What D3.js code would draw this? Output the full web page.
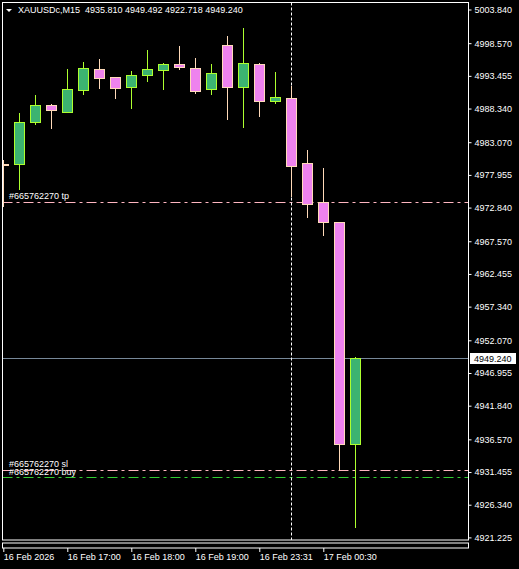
<!DOCTYPE html>
<html>
<head>
<meta charset="utf-8">
<script src="https://cdn.jsdelivr.net/npm/d3@7"></script>
<style>
body { margin: 0; background: #000; overflow: hidden; }
text { font-family: "Liberation Sans", Arial, sans-serif; font-size: 9px; fill: #fff; }
</style>
</head>
<body>
<script>
// candle times (M15), gap after 19:45 on the holiday session
const times = ['16:00', '16:15', '16:30', '16:45', '17:00', '17:15', '17:30', '17:45',
    '18:00', '18:15', '18:30', '18:45', '19:00', '19:15', '19:30', '19:45',
    '23:31', '23:45', '00:00', '00:15', '00:30', '00:45', '01:00']
const open = [4979.70, 4979.55, 4986.12, 4988.89, 4987.85, 4991.13, 4994.48, 4993.23,
    4991.66, 4993.48, 4994.26, 4995.26, 4994.64, 4991.29, 4998.24, 4991.60,
    4995.26, 4989.47, 4989.94, 4979.82, 4973.67, 4970.54, 4935.81]
const high = [4980.29, 4987.64, 4990.46, 4989.05, 4994.48, 4995.62, 4996.09, 4993.28,
    4994.22, 4997.50, 4995.51, 4998.13, 4996.25, 4995.31, 4999.69, 5000.94,
    4995.42, 4994.06, 4991.87, 4981.85, 4979.04, 4970.60, 4949.492]
const low = [4972.93, 4975.59, 4985.76, 4985.19, 4987.80, 4990.51, 4991.40, 4989.88,
    4988.32, 4992.49, 4991.24, 4994.37, 4990.62, 4990.51, 4986.59, 4985.34,
    4987.06, 4989.10, 4974.54, 4971.16, 4968.44, 4931.62, 4922.718]
const close = [4979.62, 4986.19, 4988.85, 4988.11, 4991.40, 4994.64, 4993.01, 4991.45,
    4993.54, 4994.48, 4995.26, 4994.73, 4990.98, 4993.86, 4991.60, 4995.42,
    4989.47, 4990.10, 4979.30, 4973.35, 4970.54, 4935.80, 4949.24]

const priceTicks = [5003.840, 4998.570, 4993.455, 4988.340, 4983.070, 4977.955, 4972.840,
    4967.570, 4962.455, 4957.340, 4952.070, 4946.955, 4941.840, 4936.570,
    4931.455, 4926.340, 4921.225]
const timeTickIdx = [0, 4, 8, 12, 16, 20]
const timeTickLabels = ['16 Feb 2026', '16 Feb 17:00', '16 Feb 18:00', '16 Feb 19:00', '16 Feb 23:31', '17 Feb 00:30']

const symbol = 'XAUUSDc,M15'
const ticket = '#665762270'
const tpPrice = 4973.71
const slPrice = 4931.73
const buyPrice = 4930.63
const crossIdx = 18

const w = 519
const h = 569
const pL = 2.5, pT = 2.5, pR = 468.5, pB = 540

const svg = d3.select('body').append('svg')
    .attr('width', w)
    .attr('height', h)

const x = d3.scaleLinear().domain([0, times.length - 1]).range([3.3, 3.3 + 16 * (times.length - 1)])
const y = d3.scaleLinear().domain([4921.225, 5003.84]).range([537.4, 9.5])

svg.append('clipPath').attr('id', 'plot')
    .append('rect').attr('x', pL).attr('y', pT).attr('width', pR - pL).attr('height', pB - pT)

const plot = svg.append('g').attr('clip-path', 'url(#plot)')

// order lines
const orders = [
    { p: tpPrice, c: '#ffb6c1', label: ticket + ' tp', ty: -3 },
    { p: slPrice, c: '#ffb6c1', label: ticket + ' sl', ty: -3 },
    { p: buyPrice, c: '#32cd32', label: ticket + ' buy', ty: -2 }
]
orders.forEach(o => {
    const yy = Math.round(y(o.p)) + 0.5
    plot.append('line')
        .attr('x1', pL).attr('x2', pR)
        .attr('y1', yy).attr('y2', yy)
        .attr('stroke', o.c)
        .attr('stroke-dasharray', '10,4,3,4')
})

// current price line
const cy = Math.round(y(close[close.length - 1])) + 0.5
plot.append('line')
    .attr('x1', pL).attr('x2', pR)
    .attr('y1', cy).attr('y2', cy)
    .attr('stroke', '#778899')

// crosshair
plot.append('line')
    .attr('x1', Math.round(x(crossIdx)) + 0.5).attr('x2', Math.round(x(crossIdx)) + 0.5)
    .attr('y1', pT).attr('y2', pB)
    .attr('stroke', '#fff')
    .attr('stroke-dasharray', '3,2')

// candles
const candles = times.map((t, i) => ({ i, o: open[i], h: high[i], l: low[i], c: close[i] }))
const up = d => d.c >= d.o
const edge = d => up(d) ? '#adff2f' : '#ffdab9'

const g = plot.selectAll('g.candle')
    .data(candles)
    .enter()
    .append('g')
    .attr('class', 'candle')
    .attr('shape-rendering', 'crispEdges')

g.append('line')
    .attr('x1', d => Math.round(x(d.i)) + 0.5)
    .attr('x2', d => Math.round(x(d.i)) + 0.5)
    .attr('y1', d => y(d.h))
    .attr('y2', d => y(d.l))
    .attr('stroke', edge)

g.append('rect')
    .attr('x', d => Math.round(x(d.i)) - 4.5)
    .attr('width', 10)
    .attr('y', d => Math.round(y(Math.max(d.o, d.c))) + 0.5)
    .attr('height', d => Math.max(1, Math.round(y(Math.min(d.o, d.c)) - y(Math.max(d.o, d.c)))))
    .attr('fill', d => up(d) ? '#3cb371' : '#ee82ee')
    .attr('stroke', edge)

// order labels
orders.forEach(o => {
    plot.append('text')
        .attr('x', 9)
        .attr('y', Math.round(y(o.p)) + o.ty)
        .text(o.label)
})

// frame
svg.append('rect')
    .attr('x', pL).attr('y', pT)
    .attr('width', pR - pL).attr('height', pB - pT)
    .attr('fill', 'none').attr('stroke', '#fff')
svg.append('rect')
    .attr('x', pL).attr('y', 543)
    .attr('width', pR - pL).attr('height', 5)
    .attr('fill', 'none').attr('stroke', '#fff')

// price axis
const yAxis = d3.axisRight(y)
    .tickValues(priceTicks)
    .tickSize(3)
    .tickPadding(3)
    .tickFormat(d3.format('.3f'))
svg.append('g')
    .attr('transform', `translate(${pR},0)`)
    .call(yAxis)
    .call(a => a.select('.domain').remove())
    .call(a => a.selectAll('line').attr('stroke', '#fff'))
    .call(a => a.selectAll('text').attr('fill', '#fff'))

// current price tag
svg.append('rect')
    .attr('x', 470).attr('y', cy - 5.5)
    .attr('width', 46).attr('height', 11)
    .attr('fill', '#fff')
svg.append('text')
    .attr('x', 474).attr('y', cy + 3.5)
    .style('fill', '#000')
    .text(d3.format('.3f')(close[close.length - 1]))

// time axis
const xAxis = d3.axisBottom(x)
    .tickValues(timeTickIdx)
    .tickSize(4)
    .tickFormat((d, i) => timeTickLabels[i])
svg.append('g')
    .attr('transform', 'translate(0,548)')
    .call(xAxis)
    .call(a => a.select('.domain').remove())
    .call(a => a.selectAll('line').attr('stroke', '#fff'))
    .call(a => a.selectAll('text').attr('fill', '#fff')
        .attr('text-anchor', 'start').attr('dx', 0).attr('x', 0).attr('y', 6))

// header
svg.append('path')
    .attr('d', 'M6,9 L12,9 L9,12 Z')
    .attr('fill', '#fff')
svg.append('text')
    .attr('x', 18).attr('y', 13)
    .attr('xml:space', 'preserve')
    .style('white-space', 'pre')
    .text(`${symbol}  ${d3.format('.3f')(open[open.length - 1])} ${d3.format('.3f')(high[high.length - 1])} ${d3.format('.3f')(low[low.length - 1])} ${d3.format('.3f')(close[close.length - 1])}`)
</script>
</body>
</html>
